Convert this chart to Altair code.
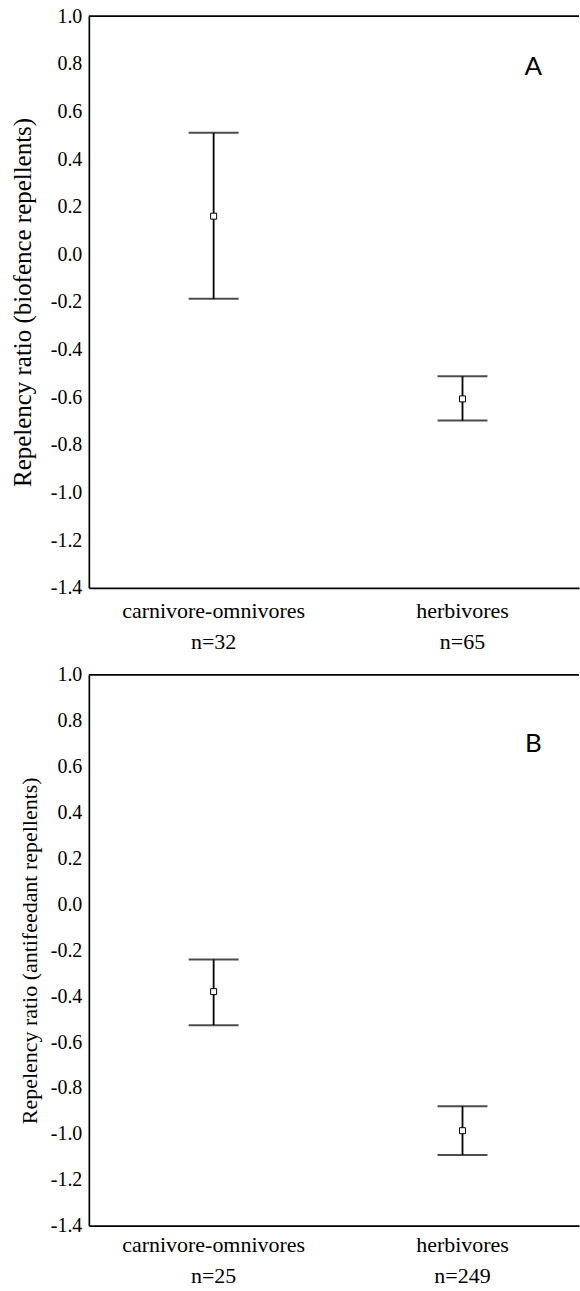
import altair as alt
import pandas as pd

categories = ["carnivore-omnivores", "herbivores"]

# Panel A (biofence repellents)
n_a = [32, 65]
mean_a = [0.16, -0.607]
lo_a = [-0.187, -0.698]
hi_a = [0.51, -0.512]

# Panel B (antifeedant repellents)
n_b = [25, 249]
mean_b = [-0.38, -0.986]
lo_b = [-0.526, -1.092]
hi_b = [-0.24, -0.88]

y_ticks = [1.0, 0.8, 0.6, 0.4, 0.2, 0.0, -0.2, -0.4, -0.6, -0.8, -1.0, -1.2, -1.4]

SERIF = "Liberation Serif, Times New Roman, Times, serif"
PLOT_W = 491


def make_panel(mean, lo, hi, ns, ytitle, letter, letter_v, height, title_size,
               title_pad, xlabel_pad):
    df = pd.DataFrame({"group": categories, "mean": mean, "lo": lo, "hi": hi, "n": ns})
    label_expr = " : ".join(
        [f"datum.label == '{c}' ? ['{c}', 'n={n}']" for c, n in zip(categories, ns)]
    ) + " : datum.label"
    xscale = alt.Scale(paddingInner=0.0638, paddingOuter=0.01665, align=1)
    x = alt.X(
        "group:N",
        sort=categories,
        scale=xscale,
        axis=alt.Axis(
            title=None,
            labelAngle=0,
            labelExpr=label_expr,
            labelFont=SERIF,
            labelFontSize=22,
            labelLineHeight=31,
            labelPadding=xlabel_pad,
            labelLimit=0,
            labelColor="black",
            ticks=False,
            domainColor="black",
            domainWidth=1.7,
        ),
    )
    yscale = alt.Scale(domain=[-1.4, 1.0], nice=False, zero=False)
    yaxis = alt.Axis(
        title=ytitle,
        values=y_ticks,
        labelExpr="(datum.value < -0.001 ? '-' : '') + format(abs(datum.value), '.1f')",
        grid=False,
        labelFont=SERIF,
        labelFontSize=20,
        labelColor="black",
        labelPadding=7,
        ticks=False,
        domainColor="black",
        domainWidth=1.7,
        titleFont=SERIF,
        titleFontSize=title_size,
        titleFontWeight="normal",
        titleColor="black",
        titlePadding=title_pad,
    )
    base = alt.Chart(df)
    rule = base.mark_rule(color="black", strokeWidth=1.8).encode(
        x=x, y=alt.Y("lo:Q", scale=yscale, axis=yaxis), y2="hi:Q"
    )
    cap_lo = base.mark_tick(color="black", size=50, thickness=2).encode(
        x=x, y=alt.Y("lo:Q", scale=yscale))
    cap_hi = base.mark_tick(color="black", size=50, thickness=2).encode(
        x=x, y=alt.Y("hi:Q", scale=yscale))
    pt = base.mark_square(size=36, fill="white", stroke="black", strokeWidth=1,
                          opacity=1).encode(x=x, y=alt.Y("mean:Q", scale=yscale))
    lab_df = pd.DataFrame({"group": [categories[-1]], "v": [letter_v], "t": [letter]})
    lab = alt.Chart(lab_df).mark_text(
        font="Lato", fontSize=26, color="black", dx=71, baseline="middle"
    ).encode(x=alt.X("group:N", sort=categories, scale=xscale),
             y=alt.Y("v:Q", scale=yscale), text="t:N")
    # top frame line (the right side of the frame lies outside the picture)
    top = alt.Chart(pd.DataFrame({"k": [0]})).mark_rule(
        color="black", strokeWidth=1.7
    ).encode(y=alt.value(0))
    return alt.layer(rule, cap_lo, cap_hi, pt, lab, top).properties(
        width=PLOT_W, height=height)


panel_a = make_panel(mean_a, lo_a, hi_a, n_a, "Repelency ratio (biofence repellents)",
                     "A", 0.785, 572.7, 25, 15, 13)
panel_b = make_panel(mean_b, lo_b, hi_b, n_b, "Repelency ratio (antifeedant repellents)",
                     "B", 0.70, 551.7, 22, 9, 9)

chart = alt.vconcat(panel_a, panel_b, spacing=12).properties(
    padding={"left": 10, "top": 5, "right": 0, "bottom": 0}
).configure(
    background="white", font=SERIF
).configure_view(stroke=None)

chart.save("out.html", embed_options={"renderer": "svg", "actions": False})
